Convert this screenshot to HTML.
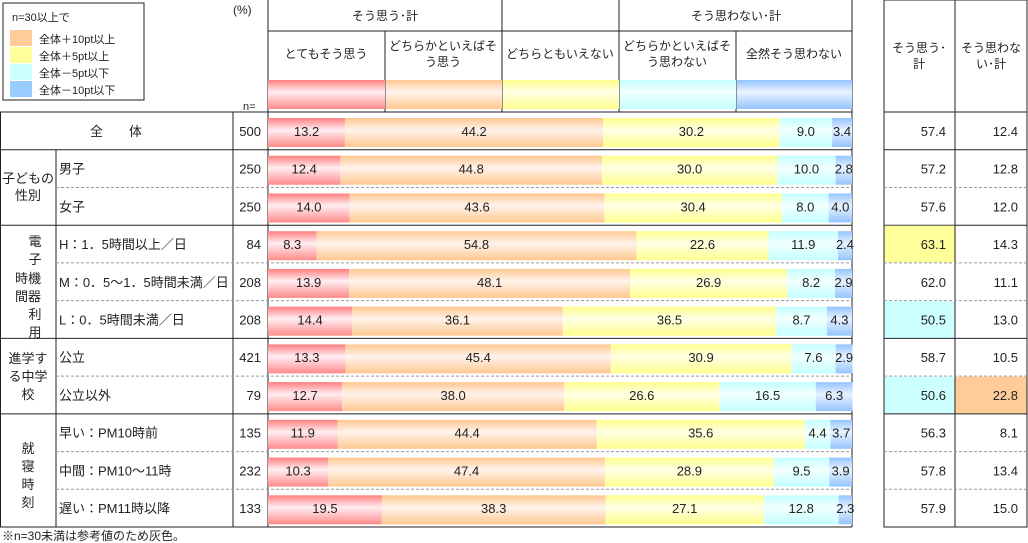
<!DOCTYPE html>
<html><head><meta charset="utf-8"><style>
body{margin:0;background:#fff;}
svg{display:block;font-family:"Liberation Sans","Noto Sans CJK JP",sans-serif;}
text{fill:#222;}
</style></head><body>
<svg id="c" width="1028" height="543" viewBox="0 0 1028 543">
<defs>
<linearGradient id="g0" x1="0" y1="0" x2="0" y2="1"><stop offset="0" stop-color="#ff8080"/><stop offset="0.42" stop-color="#ffeef2"/><stop offset="1" stop-color="#ff8a8a"/></linearGradient>
<linearGradient id="g1" x1="0" y1="0" x2="0" y2="1"><stop offset="0" stop-color="#ffc890"/><stop offset="0.42" stop-color="#fff3ec"/><stop offset="1" stop-color="#ffc890"/></linearGradient>
<linearGradient id="g2" x1="0" y1="0" x2="0" y2="1"><stop offset="0" stop-color="#ffff8c"/><stop offset="0.42" stop-color="#ffffe6"/><stop offset="1" stop-color="#ffff8c"/></linearGradient>
<linearGradient id="g3" x1="0" y1="0" x2="0" y2="1"><stop offset="0" stop-color="#c4ffff"/><stop offset="0.42" stop-color="#f2ffff"/><stop offset="1" stop-color="#c4ffff"/></linearGradient>
<linearGradient id="g4" x1="0" y1="0" x2="0" y2="1"><stop offset="0" stop-color="#94c4ff"/><stop offset="0.42" stop-color="#eaf2ff"/><stop offset="1" stop-color="#94c4ff"/></linearGradient>
</defs>
<g id="static" font-size="13">
<!-- legend -->
<rect x="3" y="3" width="141" height="97" fill="#fff" stroke="#222"/>
<text x="12" y="21" font-size="11">n=30以上で</text>
<rect x="10" y="30" width="22" height="16" fill="#ffcc99"/>
<text x="39" y="43" font-size="11">全体＋10pt以上</text>
<rect x="10" y="47" width="22" height="16" fill="#ffff99"/>
<text x="39" y="60" font-size="11">全体＋5pt以上</text>
<rect x="10" y="64" width="22" height="16" fill="#ccffff"/>
<text x="39" y="77" font-size="11">全体－5pt以下</text>
<rect x="10" y="81" width="22" height="16" fill="#99ccff"/>
<text x="39" y="94" font-size="11">全体－10pt以下</text>
<text x="233" y="14" font-size="12">(%)</text>
<text x="243" y="110" font-size="11">n=</text>
<!-- header -->
<g stroke="#222" fill="none">
<line x1="268" y1="0" x2="268" y2="527"/><line x1="852" y1="0" x2="852" y2="527"/>
<line x1="268" y1="31" x2="852" y2="31"/>
<line x1="502" y1="0" x2="502" y2="31"/><line x1="619" y1="0" x2="619" y2="31"/>
<line x1="385" y1="31" x2="385" y2="112"/><line x1="502" y1="31" x2="502" y2="112"/><line x1="619" y1="31" x2="619" y2="112"/><line x1="736" y1="31" x2="736" y2="112"/>
<line x1="0" y1="112" x2="852" y2="112"/>
<line x1="0" y1="527" x2="852" y2="527"/>
<line x1="0.5" y1="112" x2="0.5" y2="527"/>
<line x1="233" y1="112" x2="233" y2="527"/>
<line x1="56" y1="150" x2="56" y2="527"/>
<rect x="884" y="0" width="143" height="527"/>
<line x1="955" y1="0" x2="955" y2="527"/>
<line x1="884" y1="112" x2="1027" y2="112"/>
</g>
<text x="385" y="20" text-anchor="middle" font-size="12">そう思う･計</text>
<text x="736" y="20" text-anchor="middle" font-size="12">そう思わない･計</text>
<text x="326" y="58" text-anchor="middle" font-size="12">とてもそう思う</text>
<text x="443" y="50" text-anchor="middle" font-size="12">どちらかといえばそ</text>
<text x="443" y="66" text-anchor="middle" font-size="12">う思う</text>
<text x="560" y="58" text-anchor="middle" font-size="12">どちらともいえない</text>
<text x="677" y="50" text-anchor="middle" font-size="12">どちらかといえばそ</text>
<text x="677" y="66" text-anchor="middle" font-size="12">う思わない</text>
<text x="794" y="58" text-anchor="middle" font-size="12">全然そう思わない</text>
<rect x="268" y="80" width="117" height="29" fill="url(#g0)"/>
<rect x="386" y="80" width="116" height="29" fill="url(#g1)"/>
<rect x="503" y="80" width="116" height="29" fill="url(#g2)"/>
<rect x="620" y="80" width="116" height="29" fill="url(#g3)"/>
<rect x="737" y="80" width="115" height="29" fill="url(#g4)"/>
<text x="919" y="52" text-anchor="middle" font-size="12">そう思う･</text>
<text x="919" y="68" text-anchor="middle" font-size="12">計</text>
<text x="991" y="52" text-anchor="middle" font-size="12">そう思わな</text>
<text x="991" y="68" text-anchor="middle" font-size="12">い･計</text>
<!-- groups -->
<text x="116" y="136" text-anchor="middle">全　　体</text>
<text x="28" y="183" text-anchor="middle">子どもの</text>
<text x="28" y="200" text-anchor="middle">性別</text>
<g text-anchor="middle">
<text x="35" y="246">電</text><text x="35" y="264">子</text><text x="28" y="283">時機</text><text x="28" y="301">間器</text><text x="35" y="319">利</text><text x="35" y="337">用</text>
</g>
<g text-anchor="middle">
<text x="28" y="363">進学す</text><text x="28" y="381">る中学</text><text x="28" y="399">校</text>
</g>
<g text-anchor="middle">
<text x="28" y="453">就</text><text x="28" y="471">寝</text><text x="28" y="489">時</text><text x="28" y="507">刻</text>
</g>
<text x="2" y="540" font-size="12">※n=30未満は参考値のため灰色。</text>
</g>
<g id="rows"></g>
</svg>
<script>
const categories=["全体","男子","女子","H:1.5時間以上／日","M:0.5～1.5時間未満／日","L:0.5時間未満／日","公立","公立以外","早い:PM10時前","中間:PM10～11時","遅い:PM11時以降"];
const nValues=[500,250,250,84,208,208,421,79,135,232,133];
const stronglyAgree=[13.2,12.4,14.0,8.3,13.9,14.4,13.3,12.7,11.9,10.3,19.5];
const somewhatAgree=[44.2,44.8,43.6,54.8,48.1,36.1,45.4,38.0,44.4,47.4,38.3];
const neutral=[30.2,30.0,30.4,22.6,26.9,36.5,30.9,26.6,35.6,28.9,27.1];
const somewhatDisagree=[9.0,10.0,8.0,11.9,8.2,8.7,7.6,16.5,4.4,9.5,12.8];
const stronglyDisagree=[3.4,2.8,4.0,2.4,2.9,4.3,2.9,6.3,3.7,3.9,2.3];
const agreeTotal=[57.4,57.2,57.6,63.1,62.0,50.5,58.7,50.6,56.3,57.8,57.9];
const disagreeTotal=[12.4,12.8,12.0,14.3,11.1,13.0,10.5,22.8,8.1,13.4,15.0];
const displayNames=["全　　体","男子","女子","H：1．5時間以上／日","M：0．5～1．5時間未満／日","L：0．5時間未満／日","公立","公立以外","早い：PM10時前","中間：PM10～11時","遅い：PM11時以降"];
const series=[stronglyAgree,somewhatAgree,neutral,somewhatDisagree,stronglyDisagree];
const NS="http://www.w3.org/2000/svg";
const X0=268,W=584,TOP=112,RH=37.73;
const xs=v=>X0+v/100*W;
const yRow=i=>TOP+i*RH;
const solidAfter=[0,2,5,7];
function hl(v,base){const d=v-base;if(d>=10)return"#ffcc99";if(d>=5)return"#ffff99";if(d<=-10)return"#99ccff";if(d<=-5)return"#ccffff";return null;}
const g=document.getElementById('rows');
function mk(t,a,p){const e=document.createElementNS(NS,t);for(const k in a)e.setAttribute(k,a[k]);(p||g).appendChild(e);return e;}
categories.forEach((c,i)=>{
  const y=yRow(i);
  const row=mk('g',{});
  
  
  if(i>0){
    const texty=y+RH/2+5;
    const lab=mk('text',{x:59,y:texty,'font-size':13},row);lab.textContent=displayNames[i];
    
    
  }
  const nt=mk('text',{x:261,y:y+RH/2+5,'font-size':13,'text-anchor':'end'},row);nt.textContent=nValues[i];
  
  
  let acc=0;
  series.forEach((s,k)=>{
    const v=s[i];
    const r=mk('rect',{x:xs(acc),y:y+6,width:xs(acc+v)-xs(acc),height:29,fill:'url(#g'+k+')'},row);
    
    
    const t=mk('text',{x:(xs(acc)+xs(acc+v))/2,y:y+RH/2+5,'font-size':13,'text-anchor':'middle'},row);
    t.textContent=v.toFixed(1);
    
    
    acc+=v;
  });
  [[agreeTotal,884,955],[disagreeTotal,955,1027]].forEach(([arr,x1,x2])=>{
    const col=hl(arr[i],arr[0]);
    if(i>0&&col){const b=mk('rect',{x:x1+0.5,y:y+0.5,width:x2-x1-1,height:RH-1,fill:col},row);
      
      }
    const t=mk('text',{x:x2-9,y:y+RH/2+5,'font-size':13,'text-anchor':'end'},row);
    t.textContent=arr[i].toFixed(1);
    
    
  });
  if(i<categories.length-1){
    const yb=yRow(i+1);
    if(solidAfter.includes(i)){
      mk('line',{x1:0,y1:yb,x2:852,y2:yb,stroke:'#222'});
      mk('line',{x1:884,y1:yb,x2:1027,y2:yb,stroke:'#222'});
    }else{
      mk('line',{x1:56,y1:yb,x2:852,y2:yb,stroke:'#999','stroke-dasharray':'3,2'});
      mk('line',{x1:884,y1:yb,x2:1027,y2:yb,stroke:'#999','stroke-dasharray':'3,2'});
    }
  }
});
</script>
</body></html>
